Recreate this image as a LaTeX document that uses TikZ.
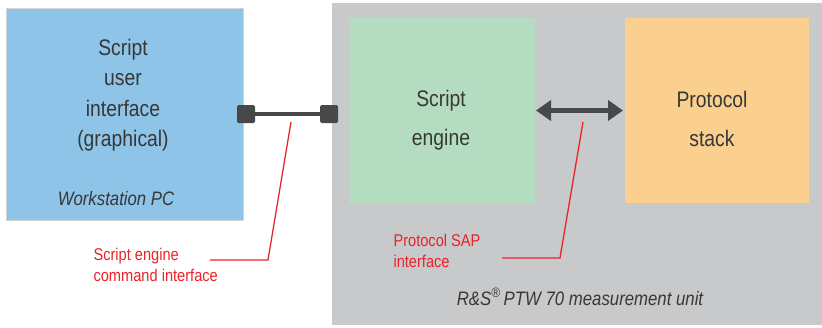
\documentclass[tikz,border=0pt]{standalone}
\usepackage{fontspec}
\setmainfont{Liberation Sans}[FakeStretch=0.86]
\usetikzlibrary{arrows.meta}

\definecolor{pcblue}{RGB}{143,196,233}
\definecolor{unitgray}{RGB}{200,201,203}
\definecolor{enggreen}{RGB}{180,220,192}
\definecolor{stackorange}{RGB}{251,207,142}
\definecolor{plugdark}{RGB}{70,72,73}
\definecolor{noteRed}{RGB}{232,35,42}
\definecolor{txtgray}{RGB}{55,55,55}

\begin{document}
\begin{tikzpicture}[x=1pt, y=-1pt,
    block/.style={inner sep=0pt, outer sep=0pt},
    blocktext/.style={text=txtgray, align=center, font=\fontsize{22.5}{30.5}\selectfont},
    note/.style={text=noteRed, align=left, anchor=west, font=\fontsize{17}{21.5}\selectfont},
    leader/.style={draw=noteRed, line width=1.3pt},
    plug/.style={fill=plugdark, rounded corners=1.5pt, minimum size=18pt, inner sep=0pt}]

    % Frame of the picture
    \useasboundingbox (0, 0) rectangle (822, 327);

    % Measurement unit (gray) and workstation (blue)
    \node[block, fill=unitgray, minimum width=490pt, minimum height=322pt] (unit) at (577, 164) {};
    \node[block, fill=pcblue, draw=unitgray!80, line width=1pt, minimum width=237pt, minimum height=212pt] (pc) at (124.5, 114) {};

    % Engine and protocol stack
    \node[block, fill=enggreen, minimum width=186pt, minimum height=185pt] (engine) at (442, 110.5) {};
    \node[block, fill=stackorange, minimum width=184pt, minimum height=185pt] (stack) at (717, 110.5) {};

    % Block texts
    \node[blocktext] (pctext) at (123, 95) {Script\\user\\interface\\(graphical)};
    \node[blocktext, font=\fontsize{22.5}{39}\selectfont] (enginetext) at (441, 120) {Script\\engine};
    \node[blocktext, font=\fontsize{22.5}{39}\selectfont] (stacktext) at (712, 119) {Protocol\\stack};
    \node[text=txtgray, font=\itshape\fontsize{19.5}{22}\selectfont] (pclabel) at (116, 199) {Workstation PC};
    \node[text=txtgray, font=\itshape\fontsize{19.5}{22}\selectfont] (unitlabel) at (580, 297) {R\&S\textsuperscript{\textregistered}\,PTW 70 measurement unit};

    % Command interface plugs
    \node[plug] (plugL) at (246, 114) {};
    \node[plug] (plugR) at (329, 114) {};
    \draw[plugdark, line width=4pt] (plugL) -- (plugR);

    % SAP double arrow
    \draw[plugdark, line width=4.5pt, {Triangle[length=15pt, width=20pt]}-{Triangle[length=15pt, width=20pt]}] (engine.east) ++(1, 0) coordinate (sapL) (stack.west) ++(-2, 0) coordinate (sapR) (sapL) -- (sapR);

    % Red notes
    \node[note] (cmdnote) at (90, 265) {Script engine\\command interface};
    \node[note] (sapnote) at (390, 251) {Protocol SAP\\interface};

    \coordinate (cmdtip) at (291, 122);
    \coordinate (cmdbend) at (268, 260);
    \coordinate (saptip) at (583, 122);
    \coordinate (sapbend) at (560, 258);
    \draw[leader] (cmdtip) -- (cmdbend) -- (210, 260) coordinate (cmdend);
    \draw[leader] (saptip) -- (sapbend) -- (502, 258) coordinate (sapend);

\end{tikzpicture}
\end{document}
